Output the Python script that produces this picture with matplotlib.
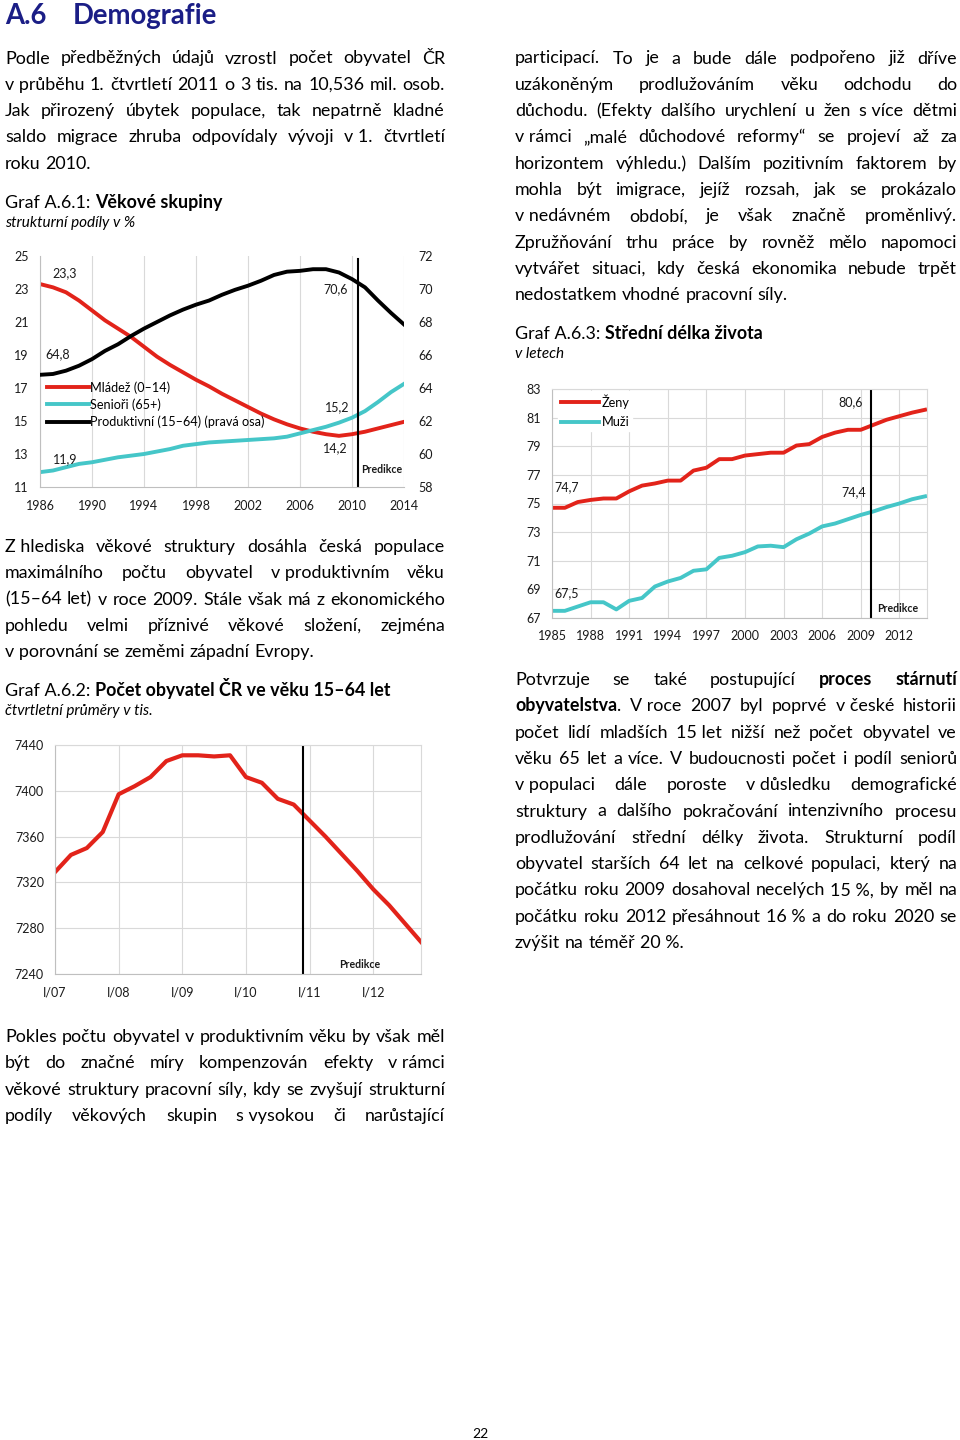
import matplotlib
matplotlib.use('Agg')
import matplotlib.pyplot as plt
import numpy as np

plt.rcParams['font.family'] = ['Lato', 'DejaVu Sans']

# --- data -------------------------------------------------------------
roky1 = list(range(1986, 2015))
mladez = [23.3, 23.1, 22.8, 22.3, 21.7, 21.1, 20.6, 20.1, 19.5, 18.9, 18.4, 17.95, 17.5, 17.1,
          16.65, 16.25, 15.85, 15.45, 15.1, 14.8, 14.55, 14.35, 14.2, 14.1, 14.2, 14.35, 14.55,
          14.75, 14.95]
seniori = [11.9, 12.0, 12.2, 12.4, 12.5, 12.65, 12.8, 12.9, 13.0, 13.15, 13.3, 13.5, 13.6, 13.7,
           13.75, 13.8, 13.85, 13.9, 13.95, 14.05, 14.25, 14.45, 14.65, 14.9, 15.2, 15.6, 16.15,
           16.75, 17.25]
produktivni = [64.8, 64.85, 65.05, 65.35, 65.75, 66.25, 66.65, 67.15, 67.6, 68.0, 68.4, 68.75,
               69.05, 69.3, 69.65, 69.95, 70.2, 70.5, 70.85, 71.05, 71.1, 71.2, 71.2, 71.0, 70.6,
               70.1, 69.3, 68.55, 67.85]
predikce1 = 2010.45

ctvrtleti = list(range(24))  # I/07 .. IV/12
obyvatele = [7329, 7344, 7350, 7364, 7397, 7404, 7412, 7426, 7431, 7431, 7430, 7431,
             7412, 7407, 7393, 7388, 7374, 7360, 7345, 7330, 7314, 7300, 7284, 7268]
ticky2 = [0, 4, 8, 12, 16, 20]
popisky2 = ['I/07', 'I/08', 'I/09', 'I/10', 'I/11', 'I/12']
predikce2 = 15.6

roky3 = list(range(1985, 2015))
zeny = [74.7, 74.7, 75.1, 75.25, 75.35, 75.35, 75.85, 76.25, 76.4, 76.6, 76.6, 77.3, 77.5, 78.1,
        78.1, 78.35, 78.45, 78.55, 78.55, 79.05, 79.15, 79.65, 79.95, 80.15, 80.15, 80.5, 80.85,
        81.1, 81.35, 81.55]
muzi = [67.5, 67.5, 67.8, 68.1, 68.1, 67.6, 68.2, 68.4, 69.2, 69.55, 69.8, 70.3, 70.4, 71.2,
        71.35, 71.6, 72.0, 72.05, 71.95, 72.5, 72.9, 73.4, 73.6, 73.9, 74.2, 74.45, 74.75, 75.0,
        75.3, 75.5]
predikce3 = 2009.8

# --- texty ------------------------------------------------------------
NB = '\u00a0'
odst1 = ["Podle předběžných údajů vzrostl počet obyvatel ČR",
         "v" + NB + "průběhu 1. čtvrtletí 2011 o 3 tis. na 10,536 mil. osob.",
         "Jak přirozený úbytek populace, tak nepatrně kladné",
         "saldo migrace zhruba odpovídaly vývoji v" + NB + "1. čtvrtletí",
         "roku 2010."]
odst2 = ["Z" + NB + "hlediska věkové struktury dosáhla česká populace",
         "maximálního počtu obyvatel v" + NB + "produktivním věku",
         "(15–64 let) v roce 2009. Stále však má z ekonomického",
         "pohledu velmi příznivé věkové složení, zejména",
         "v" + NB + "porovnání se zeměmi západní Evropy."]
odst3 = ["Pokles počtu obyvatel v produktivním věku by však měl",
         "být do značné míry kompenzován efekty v" + NB + "rámci",
         "věkové struktury pracovní síly, kdy se zvyšují strukturní",
         "podíly věkových skupin s" + NB + "vysokou či narůstající"]
odst4 = ["participací. To je a bude dále podpořeno již dříve",
         "uzákoněným prodlužováním věku odchodu do",
         "důchodu. (Efekty dalšího urychlení u žen s" + NB + "více dětmi",
         "v" + NB + "rámci „malé důchodové reformy“ se projeví až za",
         "horizontem výhledu.) Dalším pozitivním faktorem by",
         "mohla být imigrace, jejíž rozsah, jak se prokázalo",
         "v" + NB + "nedávném období, je však značně proměnlivý.",
         "Zpružňování trhu práce by rovněž mělo napomoci",
         "vytvářet situaci, kdy česká ekonomika nebude trpět",
         "nedostatkem vhodné pracovní síly."]
odst5 = ["Potvrzuje se také postupující *proces stárnutí*",
         "*obyvatelstva*. V" + NB + "roce 2007 byl poprvé v" + NB + "české historii",
         "počet lidí mladších 15" + NB + "let nižší než počet obyvatel ve",
         "věku 65 let a více. V budoucnosti počet i podíl seniorů",
         "v" + NB + "populaci dále poroste v" + NB + "důsledku demografické",
         "struktury a dalšího pokračování intenzivního procesu",
         "prodlužování střední délky života. Strukturní podíl",
         "obyvatel starších 64 let na celkové populaci, který na",
         "počátku roku 2009 dosahoval necelých 15" + NB + "%, by měl na",
         "počátku roku 2012 přesáhnout 16" + NB + "% a do roku 2020 se",
         "zvýšit na téměř 20" + NB + "%."]

RED = '#E2231A'
CYAN = '#45C6C8'
NAVY = '#1B1E86'
GRID = '#D9D9D9'
AXC = '#BFBFBF'
TXT = '#1A1A1A'

W, H = 960, 1440
fig = plt.figure(figsize=(9.6, 14.4), dpi=100)
renderer = fig.canvas.get_renderer()


def fx(x):
    return x / W


def fy(y):
    return 1 - y / H


def tw(s, size, weight='normal', style='normal'):
    t = fig.text(0, 0, s, fontsize=size, fontweight=weight, fontstyle=style)
    w = t.get_window_extent(renderer).width
    t.remove()
    return w


def fit(s, target, weight='normal', style='normal'):
    return 12 * target / tw(s, 12, weight, style)


BODY = fit("nedostatkem vhodné pracovní síly.", 271)
SUB = fit("strukturní podíly v %", 129, style='italic')
CH = fit("7440", 29)
LEG = fit("Produktivní (15–64) (pravá osa)", 172)
PRED = fit("Predikce", 41, 'bold')
SPACE = tw("a a", BODY) - tw("aa", BODY)


def pxt(x, y, s, size, **kw):
    kw.setdefault('color', TXT)
    return fig.text(fx(x), fy(y), s, fontsize=size, **kw)


def radek(line, x0, x1, yb, justify):
    polozky = []
    bold = False
    for slovo in line.split(' '):
        segs, buf = [], ''
        for ch in slovo:
            if ch == '*':
                if buf:
                    segs.append((buf, bold))
                    buf = ''
                bold = not bold
            else:
                buf += ch
        if buf:
            segs.append((buf, bold))
        ts = []
        for s, b in segs:
            t = fig.text(0, 0, s, fontsize=BODY, va='baseline', color='black',
                         fontweight='bold' if b else 'normal')
            ts.append((t, t.get_window_extent(renderer).width))
        polozky.append(ts)
    sirky = [sum(w for _, w in ts) for ts in polozky]
    if justify and len(polozky) > 1:
        mezera = (x1 - x0 - sum(sirky)) / (len(polozky) - 1)
    else:
        mezera = SPACE
    x = x0
    for ts in polozky:
        for t, w in ts:
            t.set_position((fx(x), fy(yb)))
            x += w
        x += mezera


def odstavec(lines, x0, x1, y0, last_justified=False):
    for i, line in enumerate(lines):
        j = last_justified or i < len(lines) - 1
        radek(line, x0, x1, y0 + i * 26.3, j)


def titulek(x, yb, cislo, nazev, podnazev):
    t = pxt(x, yb, cislo, BODY, va='baseline', color='black')
    w = t.get_window_extent(renderer).width
    pxt(x + w + SPACE, yb, nazev, BODY, va='baseline', fontweight='bold', color='black')
    pxt(x, yb + 19, podnazev, SUB, va='baseline', fontstyle='italic', color='black')


# nadpis
HS = fit("Demografie", 144, 'bold')
pxt(5, 24, "A.6", HS, va='baseline', fontweight='bold', color=NAVY)
pxt(73, 24, "Demografie", HS, va='baseline', fontweight='bold', color=NAVY)

odstavec(odst1, 5, 445, 63.5)
odstavec(odst2, 5, 445, 552)
odstavec(odst3, 5, 445, 1042, last_justified=True)
odstavec(odst4, 515, 957, 63.5)
odstavec(odst5, 515, 957, 685)

titulek(5, 208, "Graf A.6.1:", "Věkové skupiny", "strukturní podíly v %")
titulek(5, 696, "Graf A.6.2:", "Počet obyvatel ČR ve věku 15–64 let", "čtvrtletní průměry v tis.")
titulek(515, 339, "Graf A.6.3:", "Střední délka života", "v letech")

pxt(480, 1434, "22", BODY * 0.78, ha='center', va='center', color='black')


def add_ax(l, t, r, b):
    return fig.add_axes([fx(l), fy(b), (r - l) / W, (b - t) / H])


def styl(ax, frame):
    for side in ['top', 'right']:
        ax.spines[side].set_visible(frame)
        ax.spines[side].set_color(GRID)
    for side in ['left', 'bottom']:
        ax.spines[side].set_color(AXC)
    ax.tick_params(length=0, labelsize=CH, colors=TXT)
    ax.tick_params(axis='y', pad=8)
    ax.tick_params(axis='x', pad=9)
    ax.set_axisbelow(True)


# --- Graf A.6.1 -------------------------------------------------------
ax1 = add_ax(40, 256, 404, 487)
styl(ax1, False)
l1, = ax1.plot(roky1, mladez, color=RED, lw=2.8, label='Mládež (0–14)')
l2, = ax1.plot(roky1, seniori, color=CYAN, lw=2.8, label='Senioři (65+)')
ax1.set_xlim(1986, 2014)
ax1.set_ylim(11, 25)
ax1.set_xticks(range(1986, 2015, 4))
ax1.set_yticks(range(11, 26, 2))
ax1.grid(axis='x', color=GRID, lw=0.8)
ax1.axvline(predikce1, ymax=0.985, color='black', lw=1.5)
ax1r = ax1.twinx()
l3, = ax1r.plot(roky1, produktivni, color='black', lw=2.8, label='Produktivní (15–64) (pravá osa)')
ax1r.set_ylim(58, 72)
ax1r.set_yticks(range(58, 73, 2))
for s in ['top', 'right', 'left', 'bottom']:
    ax1r.spines[s].set_visible(False)
ax1r.tick_params(length=0, labelsize=CH, colors=TXT, pad=10)
ax1r.legend(handles=[l1, l2, l3], loc='upper left', bbox_to_anchor=(fx(47), fy(381)),
            bbox_transform=fig.transFigure, frameon=False, fontsize=LEG,
            handlelength=3.3, handletextpad=0.15, labelspacing=0.38, borderpad=0,
            borderaxespad=0)
for x, y, s in [(65, 273, "23,3"), (58, 354, "64,8"), (336, 289, "70,6"),
                (337, 407, "15,2"), (335, 448, "14,2"), (65, 459, "11,9")]:
    pxt(x, y, s, CH, ha='center', va='center')
pxt(382, 469, "Predikce", PRED, ha='center', va='center', fontweight='bold')

# --- Graf A.6.2 -------------------------------------------------------
ax2 = add_ax(55, 745, 421, 974)
styl(ax2, True)
ax2.plot(ctvrtleti, obyvatele, color=RED, lw=3)
ax2.set_xlim(0, 23)
ax2.set_ylim(7240, 7440)
ax2.set_xticks(ticky2)
ax2.set_xticklabels(popisky2)
ax2.set_yticks(range(7240, 7441, 40))
ax2.grid(color=GRID, lw=0.8)
ax2.axvline(predikce2, color='black', lw=1.5)
pxt(360, 964, "Predikce", PRED, ha='center', va='center', fontweight='bold')

# --- Graf A.6.3 -------------------------------------------------------
ax3 = add_ax(552, 389, 927, 618)
styl(ax3, True)
ax3.plot(roky3, zeny, color=RED, lw=2.8, label='Ženy')
ax3.plot(roky3, muzi, color=CYAN, lw=2.8, label='Muži')
ax3.set_xlim(1985, 2014.15)
ax3.set_ylim(67, 83)
ax3.set_xticks(range(1985, 2013, 3))
ax3.set_yticks(range(67, 84, 2))
ax3.grid(color=GRID, lw=0.8)
ax3.axvline(predikce3, color='black', lw=1.5)
leg = ax3.legend(loc='upper left', bbox_to_anchor=(fx(558), fy(391)),
                 bbox_transform=fig.transFigure, frameon=True, fontsize=LEG,
                 handlelength=3.0, handletextpad=0.2, labelspacing=0.6, borderpad=0.25,
                 borderaxespad=0, fancybox=False)
leg.get_frame().set_facecolor('white')
leg.get_frame().set_edgecolor('white')
leg.get_frame().set_alpha(1)
for x, y, s in [(851, 402, "80,6"), (567, 487, "74,7"), (854, 492, "74,4"), (567, 593, "67,5")]:
    pxt(x, y, s, CH, ha='center', va='center')
pxt(898, 609, "Predikce", PRED, ha='center', va='center', fontweight='bold')

fig.savefig('out.png', dpi=100, facecolor='white')
